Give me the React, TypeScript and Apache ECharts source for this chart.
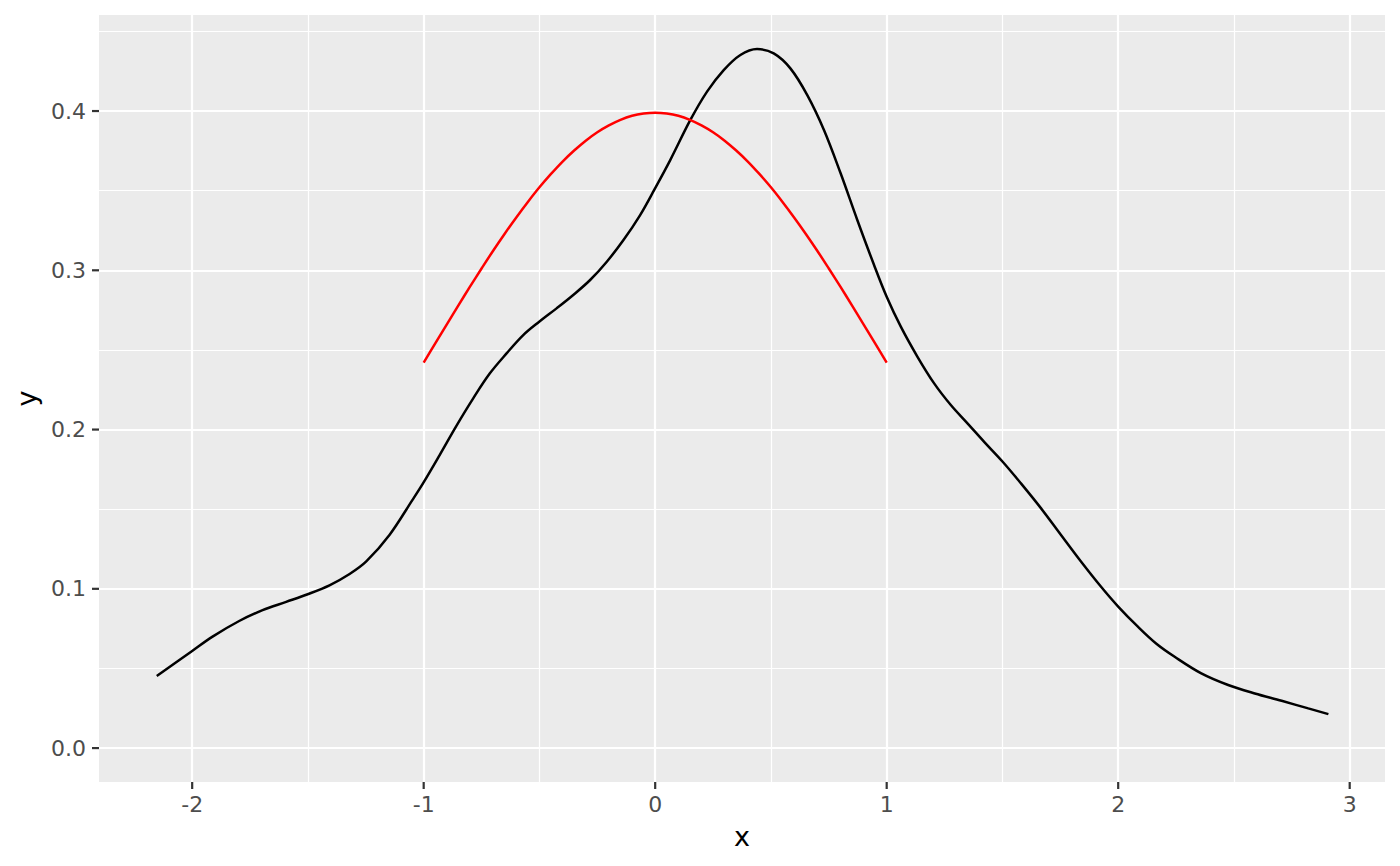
import React, { useEffect, useRef } from "react";
import * as echarts from "echarts";

// Density curve (black)
const blackX = [
  -2.153, -2.0, -1.912, -1.797, -1.696, -1.594, -1.501, -1.407, -1.32, -1.248,
  -1.147, -1.049, -1.003, -0.931, -0.858, -0.786, -0.714, -0.642, -0.57, -0.501,
  -0.426, -0.354, -0.281, -0.209, -0.137, -0.065, -0.003, 0.065, 0.152, 0.224,
  0.296, 0.368, 0.44, 0.512, 0.584, 0.657, 0.729, 0.801, 0.873, 0.945, 1.0,
  1.061, 1.133, 1.205, 1.277, 1.349, 1.421, 1.501, 1.58, 1.667, 1.753, 1.84,
  1.926, 2.001, 2.085, 2.165, 2.244, 2.359, 2.475, 2.59, 2.706, 2.821, 2.908,
];
const blackY = [
  0.0452, 0.061, 0.07, 0.0798, 0.0866, 0.0918, 0.0966, 0.1022, 0.1093, 0.1172,
  0.134, 0.1557, 0.1662, 0.184, 0.2025, 0.2196, 0.2353, 0.2478, 0.2593, 0.2677,
  0.2761, 0.2845, 0.2939, 0.3054, 0.319, 0.3347, 0.3508, 0.3692, 0.3944, 0.4122,
  0.4257, 0.4352, 0.4389, 0.4362, 0.4268, 0.41, 0.3881, 0.3609, 0.3316, 0.3035,
  0.2834, 0.2646, 0.2457, 0.229, 0.2154, 0.2039, 0.1923, 0.1798, 0.1662, 0.1505,
  0.1338, 0.117, 0.1013, 0.0887, 0.0762, 0.0655, 0.0573, 0.0469, 0.0396, 0.0343,
  0.0297, 0.0249, 0.0213,
];

// Normal curve (red)
const redX = [
  -1.0, -0.95, -0.9, -0.85, -0.8, -0.75, -0.7, -0.65, -0.6, -0.55, -0.5, -0.45,
  -0.4, -0.35, -0.3, -0.25, -0.2, -0.15, -0.1, -0.05, 0.0, 0.05, 0.1, 0.15, 0.2,
  0.25, 0.3, 0.35, 0.4, 0.45, 0.5, 0.55, 0.6, 0.65, 0.7, 0.75, 0.8, 0.85, 0.9,
  0.95, 1.0,
];
const redY = [
  0.242, 0.2541, 0.2661, 0.278, 0.2897, 0.3011, 0.3123, 0.323, 0.3332, 0.3429,
  0.3521, 0.3605, 0.3683, 0.3752, 0.3814, 0.3867, 0.391, 0.3945, 0.397, 0.3984,
  0.3989, 0.3984, 0.397, 0.3945, 0.391, 0.3867, 0.3814, 0.3752, 0.3683, 0.3605,
  0.3521, 0.3429, 0.3332, 0.323, 0.3123, 0.3011, 0.2897, 0.278, 0.2661, 0.2541,
  0.242,
];

const xTicks = [-2, -1, 0, 1, 2, 3];
const yTicks = [0, 0.1, 0.2, 0.3, 0.4];
const xRange = [-2.4025, 3.1525];
const yRange = [-0.0213, 0.4603];

const FONT = "DejaVu Sans";
const TICK_LEN = 7;
const TICK_W = 2.2;
const TICK_COLOR = "#333333";

export default function App() {
  const ref = useRef<HTMLDivElement>(null);

  useEffect(() => {
    document.body.style.margin = "0";
    if (!ref.current) return;
    const chart = echarts.init(ref.current, null, { renderer: "svg" });
    const pairs = (xs: number[], ys: number[]) => xs.map((x, i) => [x, ys[i]]);
    const majorLine = { color: "#FFFFFF", width: 2.2 };
    const minorLine = { color: "#FFFFFF", width: 1.2 };
    chart.setOption({
      animation: false,
      grid: {
        left: 99,
        right: 15,
        top: 15,
        bottom: 84,
        show: true,
        backgroundColor: "#EBEBEB",
        borderWidth: 0,
        containLabel: false,
      },
      xAxis: {
        type: "value",
        min: xRange[0],
        max: xRange[1],
        name: "x",
        nameLocation: "middle",
        nameGap: 41,
        nameTextStyle: { color: "#000000", fontSize: 27, fontFamily: FONT },
        axisLine: { show: false, onZero: false },
        axisTick: { show: false, customValues: xTicks },
        axisLabel: {
          customValues: xTicks,
          formatter: (v: number) => String(Math.round(v)),
          color: "#4D4D4D",
          fontSize: 22,
          fontFamily: FONT,
          margin: 11,
        },
        splitLine: { show: true, lineStyle: majorLine },
        minorTick: { splitNumber: 2 },
        minorSplitLine: { show: true, lineStyle: minorLine },
      },
      yAxis: {
        type: "value",
        min: yRange[0],
        max: yRange[1],
        name: "y",
        nameLocation: "middle",
        nameGap: 56,
        nameRotate: 90,
        nameTextStyle: { color: "#000000", fontSize: 27, fontFamily: FONT },
        axisLine: { show: false, onZero: false },
        axisTick: { show: false, customValues: yTicks },
        axisLabel: {
          customValues: yTicks,
          formatter: (v: number) => v.toFixed(1),
          color: "#4D4D4D",
          fontSize: 22,
          fontFamily: FONT,
          margin: 13,
        },
        splitLine: { show: true, lineStyle: majorLine },
        minorTick: { splitNumber: 2 },
        minorSplitLine: { show: true, lineStyle: minorLine },
      },
      series: [
        {
          type: "line",
          data: pairs(blackX, blackY),
          showSymbol: false,
          smooth: 0.35,
          lineStyle: { color: "#000000", width: 2.5 },
          silent: true,
        },
        {
          type: "line",
          data: pairs(redX, redY),
          showSymbol: false,
          smooth: 0.35,
          lineStyle: { color: "#FF0000", width: 2.5 },
          silent: true,
        },
        // x-axis ticks, placed through the axis scale
        {
          type: "custom",
          silent: true,
          clip: false,
          z: 10,
          encode: { x: 0, y: 1 },
          data: xTicks.map((v) => [v, yRange[0]]),
          renderItem: (_params: any, api: any) => {
            const p = api.coord([api.value(0), yRange[0]]);
            return {
              type: "rect",
              shape: { x: p[0] - TICK_W / 2, y: p[1], width: TICK_W, height: TICK_LEN },
              style: { fill: TICK_COLOR },
            };
          },
        },
        // y-axis ticks, placed through the axis scale
        {
          type: "custom",
          silent: true,
          clip: false,
          z: 10,
          encode: { x: 0, y: 1 },
          data: yTicks.map((v) => [xRange[0], v]),
          renderItem: (_params: any, api: any) => {
            const p = api.coord([xRange[0], api.value(1)]);
            return {
              type: "rect",
              shape: { x: p[0] - TICK_LEN, y: p[1] - TICK_W / 2, width: TICK_LEN, height: TICK_W },
              style: { fill: TICK_COLOR },
            };
          },
        },
      ],
    });

    return () => chart.dispose();
  }, []);

  return <div ref={ref} style={{ width: 1400, height: 866 }} />;
}
